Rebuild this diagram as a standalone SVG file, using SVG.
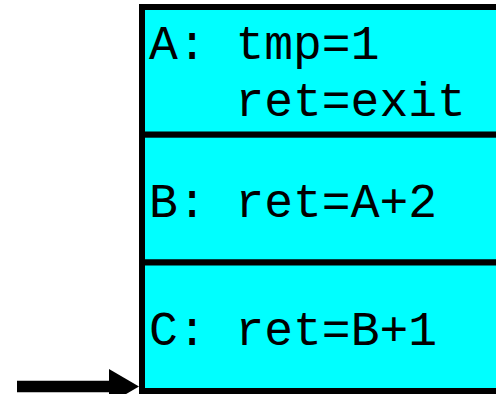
<svg xmlns="http://www.w3.org/2000/svg" width="496" height="394" viewBox="0 0 496 394">
  <style>
    .frame { fill: #00ffff; stroke: #000000; stroke-width: 6; }
    .code { font-family: "Liberation Mono", "DejaVu Sans Mono", monospace; font-size: 48px; fill: #000000; }
  </style>
  <rect width="496" height="394" fill="#ffffff"/>

  <!-- stack frames, top to bottom -->
  <g id="frameA">
    <rect class="frame" x="142" y="7" width="380" height="127.7"/>
    <text class="code" x="149" y="59">A: tmp=1</text>
    <text class="code" x="235.4" y="116">ret=exit</text>
  </g>
  <g id="frameB">
    <rect class="frame" x="142" y="134.7" width="380" height="127.8"/>
    <text class="code" x="149" y="217">B: ret=A+2</text>
  </g>
  <g id="frameC">
    <rect class="frame" x="142" y="262.5" width="380" height="128.5"/>
    <text class="code" x="149" y="345">C: ret=B+1</text>
  </g>

  <!-- pointer to the bottom of the stack -->
  <g id="connectors">
    <line x1="17" y1="386.5" x2="109" y2="386.5" stroke="#000000" stroke-width="11.5"/>
    <polygon points="109,369 139,386.5 109,404" fill="#000000"/>
  </g>
</svg>
